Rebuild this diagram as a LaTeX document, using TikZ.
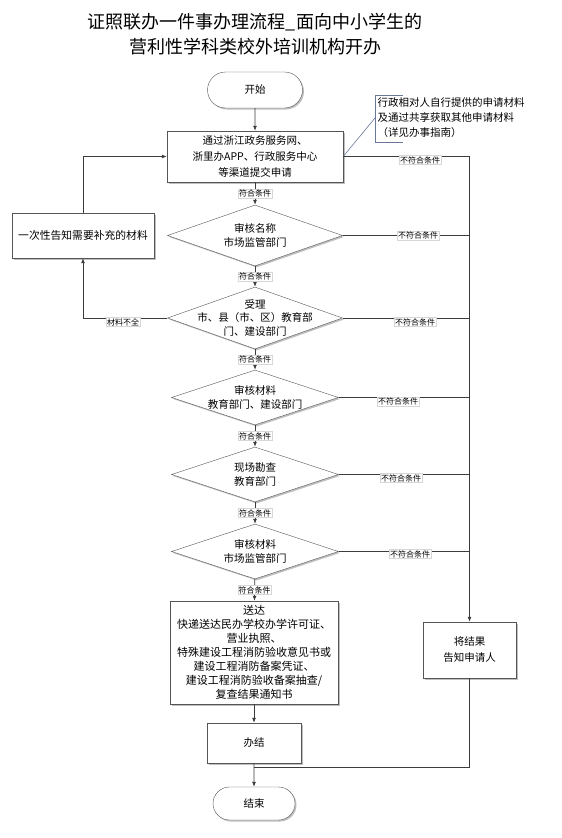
\documentclass[tikz,border=0pt]{standalone}
\usepackage{fontspec}
\setmainfont{Noto Sans CJK SC}
\usepackage{tikz}
\usetikzlibrary{shapes.geometric}
\usetikzlibrary{shapes.misc}
\usetikzlibrary{shadows}
\usetikzlibrary{arrows.meta}
\definecolor{lgrey}  {RGB}{60,60,60}
\definecolor{bgrey}  {RGB}{85,85,85}
\definecolor{nblue}  {RGB}{105,120,150}
\definecolor{tgrey}  {RGB}{215,215,215}
\tikzset{
    >={Latex[length=5pt,width=4pt]},
    shade/.style={drop shadow={shadow xshift=1.5pt, shadow yshift=-1.5pt, fill=black, opacity=.25}},
    terminal/.style={rounded rectangle, draw=bgrey, fill=white, shade, inner sep=0pt,
             font=\fontsize{10.5}{14}\selectfont},
    stepbox/.style={rectangle, draw=bgrey, fill=white, shade, align=center, inner sep=0pt,
             font=\fontsize{10.5}{14}\selectfont},
    check/.style={diamond, draw=bgrey, fill=white, shade, inner sep=0pt,
             minimum width=167pt, minimum height=55pt,
             label={[align=center, font=\fontsize{10.5}{14}\selectfont]center:{#1}}},
    conn/.style={draw=lgrey, line width=0.8pt},
    lab/.style={fill=white, draw=tgrey, line width=0.3pt, inner sep=0.8pt,
             font=\fontsize{8}{9}\selectfont}
  }
\begin{document}
\begin{tikzpicture}[x=1pt, y=1pt]
 \useasboundingbox (0,0) rectangle (562,-838);
 % title
     \node[align=center, font=\fontsize{18}{25}\selectfont] (title) at (255,-34.5)
          {证照联办一件事办理流程\_面向中小学生的\\营利性学科类校外培训机构开办};
 % start and submission
     \node[terminal, minimum width=95pt, minimum height=36pt] (start) at (255,-90) {开始};
     \node[stepbox, minimum width=176pt, minimum height=51pt, font=\fontsize{10.5}{16}\selectfont] (apply) at (255,-156.5)
          {通过浙江政务服务网、\\浙里办APP、行政服务中心\\等渠道提交申请};
 % note
     \draw[nblue, line width=0.6pt] (403,-95) -- (375,-95) -- (375,-142) -- (403,-142);
     \coordinate (notept) at (375,-118);
     \node[anchor=north west, align=left, inner sep=0pt, font=\fontsize{10.5}{15}\selectfont] (note) at (377.5,-97)
          {行政相对人自行提供的申请材料\\及通过共享获取其他申请材料\\（详见办事指南）};
     \draw[nblue, line width=0.6pt] (apply.east) -- (notept);
 % checks
     \node[check={审核名称\\市场监管部门}, minimum width=175pt, minimum height=61pt] (name) at (255,-235.5) {};
     \node[check={受理\\市、县（市、区）教育部\\门、建设部门}, minimum width=175pt, minimum height=62pt] (accept) at (255,-318) {};
     \node[check={审核材料\\教育部门、建设部门}] (edu) at (255,-397.5) {};
     \node[check={现场勘查\\教育部门}] (site) at (255,-474.5) {};
     \node[check={审核材料\\市场监管部门}] (market) at (255,-551.5) {};
 % side boxes
     \node[stepbox, minimum width=142pt, minimum height=45pt, font=\fontsize{10.8}{14}\selectfont] (inform) at (83,-235.5)
          {一次性告知需要补充的材料};
     \node[stepbox, minimum width=93pt, minimum height=56pt, font=\fontsize{10.5}{16}\selectfont] (result) at (469.5,-650)
          {将结果\\告知申请人};
 % delivery and end
     \node[stepbox, minimum width=168pt, minimum height=103pt, font=\fontsize{11}{14}\selectfont] (send) at (254,-652.5)
          {送达\\快递送达民办学校办学许可证、\\营业执照、\\特殊建设工程消防验收意见书或\\建设工程消防备案凭证、\\建设工程消防验收备案抽查/\\复查结果通知书};
     \node[stepbox, minimum width=94pt, minimum height=40pt] (done) at (254,-743) {办结};
     \node[terminal, minimum width=82pt, minimum height=33pt] (end) at (254,-803.5) {结束};
     \coordinate (join) at (254,-767);
 % main line
     \draw[conn,->] (start) -- (apply);
     \draw[conn,->] (apply) -- node[lab] {符合条件} (name);
     \draw[conn,->] (name) -- node[lab] {符合条件} (accept);
     \draw[conn,->] (accept) -- node[lab] {符合条件} (edu);
     \draw[conn,->] (edu) -- node[lab] {符合条件} (site);
     \draw[conn,->] (site) -- node[lab] {符合条件} (market);
     \draw[conn,->] (market) -- node[lab] {符合条件} (send);
     \draw[conn,->] (send) -- (done);
     \draw[conn,->] (done) -- (end);
 % missing material loop
     \draw[conn,->] (accept.west) -| (inform.south);
     \draw[conn,->] (inform.north) |- (apply.west);
     \node[lab] at (123,-322) {材料不全};
 % rejected
     \draw[conn,->] (apply.east) -| (result.north);
     \draw[conn] (name.east) -- (name.east -| result.north);
     \draw[conn] (accept.east) -- (accept.east -| result.north);
     \draw[conn] (edu.east) -- (edu.east -| result.north);
     \draw[conn] (site.east) -- (site.east -| result.north);
     \draw[conn] (market.east) -- (market.east -| result.north);
     \draw[conn] (result.south) |- (join);
     \node[lab] at (420,-160) {不符合条件};
     \node[lab] at (418,-235.5) {不符合条件};
     \node[lab] at (415,-322) {不符合条件};
     \node[lab] at (398,-401.5) {不符合条件};
     \node[lab] at (401,-478) {不符合条件};
     \node[lab] at (410,-554) {不符合条件};
\end{tikzpicture}
\end{document}
